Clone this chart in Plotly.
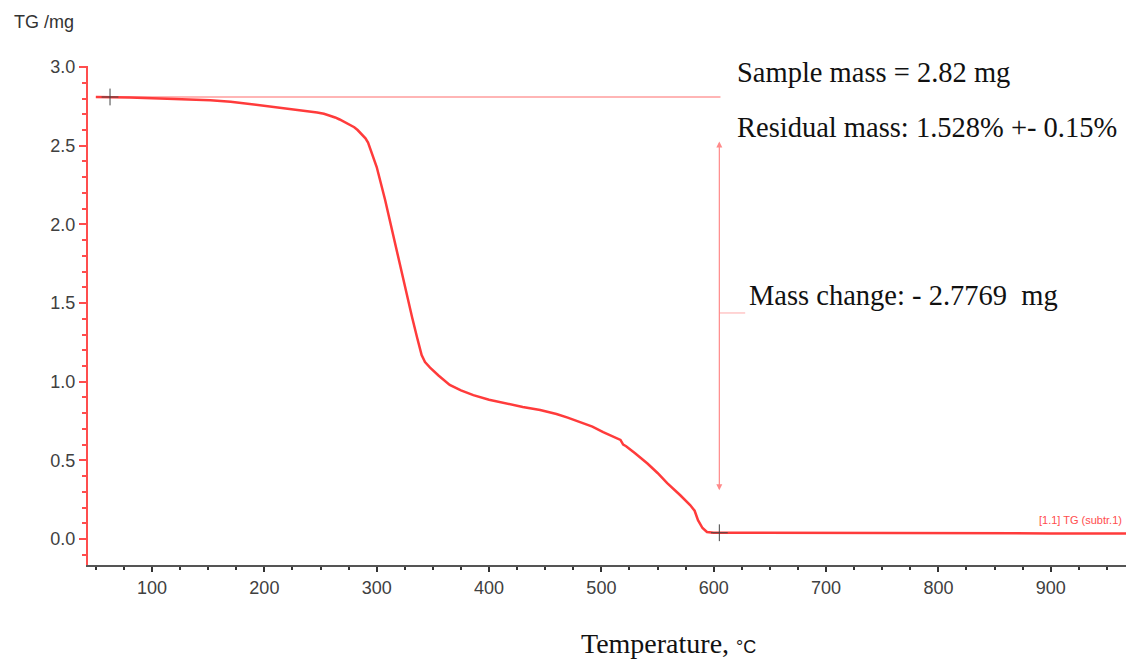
import plotly.graph_objects as go

# ---- data ----
temperature = [50, 62.6, 80, 107, 130, 152, 170, 187, 210, 232, 240, 247, 253, 258, 263, 267,
               272, 276, 280, 283, 286, 288, 290, 292.3, 296, 300, 307.5, 314, 321, 326, 331.5,
               336, 340, 343, 347.5, 355, 365, 375, 386, 400, 416, 430, 445.5, 460, 470, 481,
               492, 501.6, 510, 517, 519.4, 522, 530, 541, 550, 558.6, 570, 579, 583, 586, 590,
               594, 600, 605, 650, 700, 750, 800, 850, 900, 967]
tg_mass = [2.81, 2.81, 2.807, 2.80, 2.795, 2.79, 2.78, 2.765, 2.745, 2.728, 2.72, 2.712, 2.703,
           2.693, 2.68, 2.667, 2.65, 2.635, 2.618, 2.60, 2.58, 2.565, 2.547, 2.52, 2.45, 2.365,
           2.155, 1.95, 1.73, 1.58, 1.41, 1.28, 1.17, 1.125, 1.09, 1.04, 0.98, 0.945, 0.915,
           0.885, 0.86, 0.84, 0.82, 0.795, 0.772, 0.745, 0.715, 0.68, 0.655, 0.63, 0.60, 0.59,
           0.545, 0.48, 0.42, 0.356, 0.28, 0.216, 0.18, 0.12, 0.07, 0.045, 0.04, 0.04, 0.04,
           0.039, 0.038, 0.037, 0.036, 0.036, 0.035]
marker_t = [62.6, 605]
marker_m = [2.81, 0.04]
ref_line_t = [50, 606]
ref_line_m = 2.81
arrow_t = 605
arrow_m = [0.31, 2.537]
mid_tick_t = [605, 628]
mid_tick_m = 1.437
x_tickvals = [100, 200, 300, 400, 500, 600, 700, 800, 900]
y_tickvals = [0.0, 0.5, 1.0, 1.5, 2.0, 2.5, 3.0]

SERIF = "Liberation Serif, Times New Roman, serif"
SANS = "Liberation Sans, Arial, sans-serif"

fig = go.Figure()
fig.add_trace(go.Scatter(x=temperature, y=tg_mass, mode="lines",
                         line=dict(color="#ff3b3b", width=2.5), hoverinfo="skip",
                         showlegend=False))
fig.add_trace(go.Scatter(x=marker_t, y=marker_m, mode="markers",
                         marker=dict(symbol="cross-thin", size=12,
                                     line=dict(color="#444444", width=1)),
                         hoverinfo="skip", showlegend=False))

# horizontal reference line
fig.add_shape(type="line", x0=ref_line_t[0], x1=ref_line_t[1], y0=ref_line_m, y1=ref_line_m,
              line=dict(color="#ff9c9c", width=1.5), layer="below")
# small tick at middle of arrow
fig.add_shape(type="line", x0=mid_tick_t[0], x1=mid_tick_t[1], y0=mid_tick_m, y1=mid_tick_m,
              line=dict(color="#ffaaaa", width=1))
# double-headed arrow
fig.add_annotation(x=arrow_t, y=arrow_m[0], ax=arrow_t, ay=arrow_m[1], xref="x", yref="y",
                   axref="x", ayref="y", text="", showarrow=True, arrowhead=2,
                   arrowside="end+start", arrowsize=1, arrowwidth=1.2, arrowcolor="#ff8a8a")

ann_font = dict(family=SERIF, size=28.5, color="#111111")
fig.add_annotation(xref="paper", yref="paper", x=0.6233, y=0.986, xanchor="left",
                   yanchor="middle", text="Sample mass = 2.82 mg", showarrow=False, font=ann_font)
fig.add_annotation(xref="paper", yref="paper", x=0.6233, y=0.876, xanchor="left",
                   yanchor="middle", text="Residual mass: 1.528% +- 0.15%", showarrow=False,
                   font=ann_font)
fig.add_annotation(xref="paper", yref="paper", x=0.6349, y=0.541, xanchor="left",
                   yanchor="middle", text="Mass change: - 2.7769&nbsp; mg", showarrow=False,
                   font=ann_font)
fig.add_annotation(xref="paper", yref="paper", x=0.998, y=0.090, xanchor="right",
                   yanchor="middle", text="[1.1] TG (subtr.1)", showarrow=False,
                   font=dict(family=SANS, size=11, color="#ff4d4d"))
# axis titles
fig.add_annotation(xref="paper", yref="paper", x=-0.0732, y=1.088, xanchor="left",
                   yanchor="middle", text="TG /mg", showarrow=False,
                   font=dict(family=SANS, size=18, color="#333333"))
fig.add_annotation(xref="paper", yref="paper", x=0.5588, y=-0.158, xanchor="center",
                   yanchor="middle",
                   text="Temperature, <span style='font-family:Liberation Sans;font-size:18px'>°C</span>",
                   showarrow=False, font=dict(family=SERIF, size=28, color="#111111"))

fig.update_layout(
    width=1126, height=662,
    margin=dict(l=88, r=0, t=66, b=97),
    paper_bgcolor="white", plot_bgcolor="white",
    showlegend=False,
    xaxis=dict(range=[43, 967], tickvals=x_tickvals, ticks="outside", ticklen=5,
               tickwidth=1.5, tickcolor="#333333", showgrid=False, zeroline=False,
               showline=True, linecolor="#555555", linewidth=2,
               tickfont=dict(family=SANS, size=18, color="#404040"),
               minor=dict(dtick=25, tick0=0, ticks="outside", ticklen=3, tickcolor="#333333",
                          showgrid=False)),
    yaxis=dict(range=[-0.165, 3.007], tickvals=y_tickvals, tickformat=".1f", ticks="outside",
               ticklen=7, tickwidth=1.5, tickcolor="#ff4d4d", showgrid=False, zeroline=False,
               showline=True, linecolor="#ff4d4d", linewidth=2,
               tickfont=dict(family=SANS, size=18, color="#404040"),
               minor=dict(dtick=0.1, tick0=0, ticks="outside", ticklen=4, tickcolor="#ff4d4d",
                          showgrid=False)),
)

fig.write_html("out.html", config={"displayModeBar": False},
               post_script="document.body.style.margin='0';document.body.style.overflow='hidden';")
